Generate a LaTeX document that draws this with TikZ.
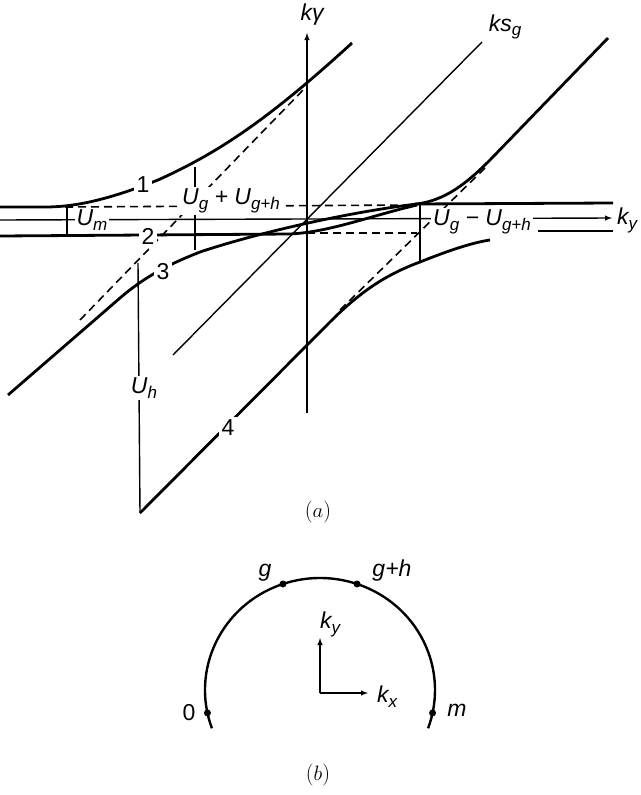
\documentclass[tikz,border=0pt]{standalone}
\usepackage{fontspec}
\setsansfont{Liberation Sans}
\usetikzlibrary{calc}
\newcommand{\lsub}[1]{\raisebox{-0.4ex}{\fontsize{17}{17}\selectfont #1}}

\begin{document}
\begin{tikzpicture}[x=1pt,y=-1pt]
    \tikzstyle{branch}=[line width=2.8pt]
    \tikzstyle{guide}=[line width=1.4pt]
    \tikzstyle{asym}=[line width=1.6pt,dash pattern=on 8pt off 5pt]
    \tikzstyle{lab}=[font=\fontsize{23}{23}\selectfont\sffamily\itshape,fill=white,inner sep=2pt]
    \tikzstyle{num}=[font=\fontsize{23}{23}\selectfont\sffamily,fill=white,inner sep=3pt]
    \tikzstyle{partlabel}=[font=\fontsize{22}{22}\selectfont\rmfamily]
    \tikzstyle{dot}=[circle,fill=black,inner sep=0pt,minimum size=7pt]

    \useasboundingbox (0,0) rectangle (640,795);

    % (a) axes and asymptotes
    \draw[guide,-latex] (307,413) -- (307,33);
    \draw[guide,-latex] (0,220) -- (612,218);
    \draw[guide] (173,355) -- (482,42);
    \draw[asym] (80,320) -- (305,88);
    \draw[asym] (340,310) -- (485,168);
    \draw[asym] (65,207) -- (415,205);
    \draw[asym] (307,233) -- (417,233);

    % branches
    \draw[branch] (0,207) -- (45,207) .. controls (80,207) and (115,197) .. (158,180)
        .. controls (220,152) and (270,118) .. (352,43);
    \draw[branch] (0,236) -- (290,234) .. controls (330,232) and (370,216) .. (417,205);
    \draw[branch] (8,395) -- (120,298) .. controls (150,272) and (180,260) .. (200,252)
        .. controls (260,232) and (350,212) .. (417,204);
    \draw[branch] (417,204) .. controls (445,200) and (465,185) .. (490,160) -- (608,38);
    \draw[branch] (415,204) -- (613,203);
    \draw[branch] (538,231) -- (613,231);
    \draw[branch] (140,513) -- (330,322) .. controls (360,292) and (385,275) .. (420,262)
        .. controls (445,252) and (470,243) .. (490,240);

    % gap markers
    \draw[guide] (67,207) -- (67,236);
    \draw[guide] (195,167) -- (195,250);
    \draw[guide] (420,204) -- (420,262);
    \draw[guide] (138,263) -- (140,513);

    % labels
    \node[lab] (kgam) at (312,15) {kγ};
    \node[lab] (ksg) at (505,27) {ks\lsub{g}};
    \node[lab] (ky) at (627,220) {k\lsub{y}};
    \node[lab] (um) at (92,220) {U\lsub{m}};
    \node[lab] (upl) at (231,201) {U\lsub{g} + U\lsub{g+h}};
    \node[lab] (umi) at (482,222) {U\lsub{g} − U\lsub{g+h}};
    \node[lab] (uh) at (144,388) {U\lsub{h}};
    \node[num] (b1) at (143,185) {1};
    \node[num] (b2) at (148,236) {2};
    \node[num] (b3) at (163,272) {3};
    \node[num] (b4) at (228,428) {4};
    \node[partlabel] (capa) at (318,512) {($a$)};

    % (b) reflection circle
    \coordinate (cen) at (320,690);
    \draw[branch,line width=2.4pt] ($(cen)+(160:115 and 112)$) arc[start angle=160,end angle=380,x radius=115,y radius=112];
    \node[dot] (p0) at ($(cen)+(168.2:115 and 112)$) {};
    \node[dot] (pg) at ($(cen)+(251.2:115 and 112)$) {};
    \node[dot] (pgh) at ($(cen)+(288.8:115 and 112)$) {};
    \node[dot] (pm) at ($(cen)+(371.8:115 and 112)$) {};
    \node[num,fill=none] at (189,713) {0};
    \node[lab,fill=none] at (265,573) {g};
    \node[lab,fill=none] at (392,571) {g+h};
    \node[lab,fill=none] at (457,710) {m};
    \coordinate (o) at (320,693);
    \draw[guide,-latex] (o) -- (320,638);
    \draw[guide,-latex] (o) -- (368,693);
    \node[lab,fill=none] (kyb) at (330,624) {k\lsub{y}};
    \node[lab,fill=none] (kxb) at (387,697) {k\lsub{x}};
    \node[partlabel] (capb) at (318,775) {($b$)};
\end{tikzpicture}
\end{document}
